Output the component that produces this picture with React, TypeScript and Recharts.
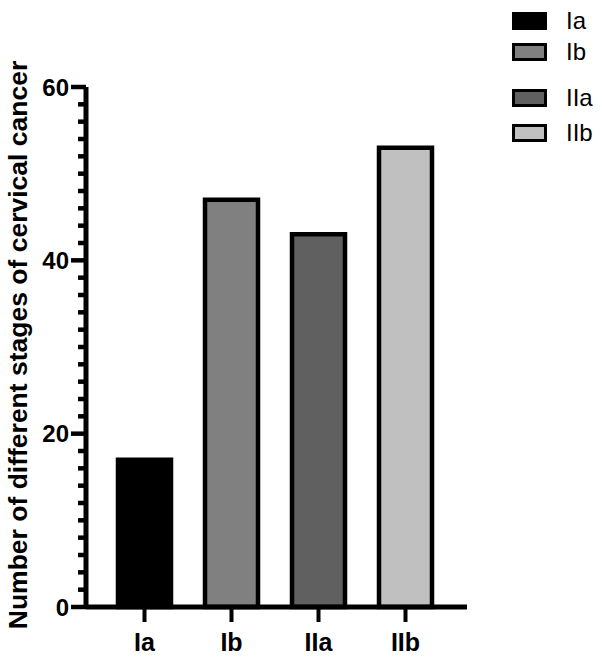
import React from "react";
import { BarChart, Bar, XAxis, YAxis, Legend, Cell } from "recharts";

const stages = ["Ia", "Ib", "IIa", "IIb"];
const counts = [17, 47, 43, 53];
const fills = ["#000000", "#808080", "#606060", "#c0c0c0"];
const yTicks = [0, 2, 4, 6, 8, 10, 12, 14, 16, 18, 20, 22, 24, 26, 28, 30, 32, 34, 36, 38, 40, 42, 44, 46, 48, 50, 52, 54, 56, 58, 60];
const yTitle = "Number of different stages of cervical cancer";

const data = stages.map((name, i) => ({ name, count: counts[i] }));

const FONT = "Liberation Sans, Arial, sans-serif";

// every 2 units a short tick, every 20 a long one with a label
const YTick = (props: any) => {
  const { x, y, payload } = props;
  const major = payload.value % 20 === 0;
  const len = major ? 15 : 8;
  return (
    <g>
      <rect x={x - len} y={y - 2.25} width={len} height={4.5} fill="#000" />
      {major && (
        <text x={x - 17} y={y} textAnchor="end" dominantBaseline="central" fontFamily={FONT} fontWeight="bold" fontSize={24} fill="#000">
          {payload.value}
        </text>
      )}
    </g>
  );
};

const XTick = (props: any) => {
  const { x, y, payload } = props;
  return (
    <g>
      <rect x={x - 2} y={y} width={4} height={15} fill="#000" />
      <text x={x} y={y + 44} textAnchor="middle" fontFamily={FONT} fontWeight="bold" fontSize={25} fill="#000">
        {payload.value}
      </text>
    </g>
  );
};

const YTitle = ({ viewBox }: any) => {
  const cy = viewBox.y + viewBox.height / 2 - 2;
  return (
    <text x={27} y={cy} transform={`rotate(-90, 27, ${cy})`} textAnchor="middle" fontFamily={FONT} fontWeight="bold" fontSize={26.5} fill="#000">
      {yTitle}
    </text>
  );
};

const LegendBox = () => (
  <div style={{ width: 90, height: 150, position: "relative", fontFamily: FONT }}>
    {stages.map((s, i) => (
      <div key={s} style={{ position: "absolute", left: 0, top: [12, 43, 89, 124][i], height: 18, display: "flex", alignItems: "center" }}>
        <div style={{ width: 35, height: 18, boxSizing: "border-box", border: "3.5px solid #000", background: fills[i] }} />
        <span style={{ marginLeft: 19, fontSize: 24, lineHeight: "18px", color: "#000" }}>{s}</span>
      </div>
    ))}
  </div>
);

export default function App() {
  return (
    <div style={{ position: "absolute", left: 0, top: 0, background: "#fff" }}>
      <BarChart width={602} height={661} data={data} margin={{ top: 87, right: 45, bottom: 0, left: 0 }}>
        <XAxis
          dataKey="name"
          padding={{ left: 15, right: 18 }}
          axisLine={{ stroke: "#000", strokeWidth: 5 }}
          tickLine={false}
          tickSize={0}
          tickMargin={0}
          height={54}
          tick={<XTick />}
          interval={0}
        />
        <YAxis
          domain={[0, 60]}
          ticks={yTicks}
          interval={0}
          width={86}
          axisLine={{ stroke: "#000", strokeWidth: 5 }}
          tickLine={false}
          tickSize={0}
          tickMargin={0}
          tick={<YTick />}
          label={<YTitle />}
        />
        <Legend layout="vertical" align="right" verticalAlign="top" wrapperStyle={{ right: 0, top: 0 }} content={<LegendBox />} />
        <Bar dataKey="count" barSize={53} stroke="#000" strokeWidth={4.5} isAnimationActive={false}>
          {data.map((d, i) => (
            <Cell key={d.name} fill={fills[i]} />
          ))}
        </Bar>
      </BarChart>
    </div>
  );
}
